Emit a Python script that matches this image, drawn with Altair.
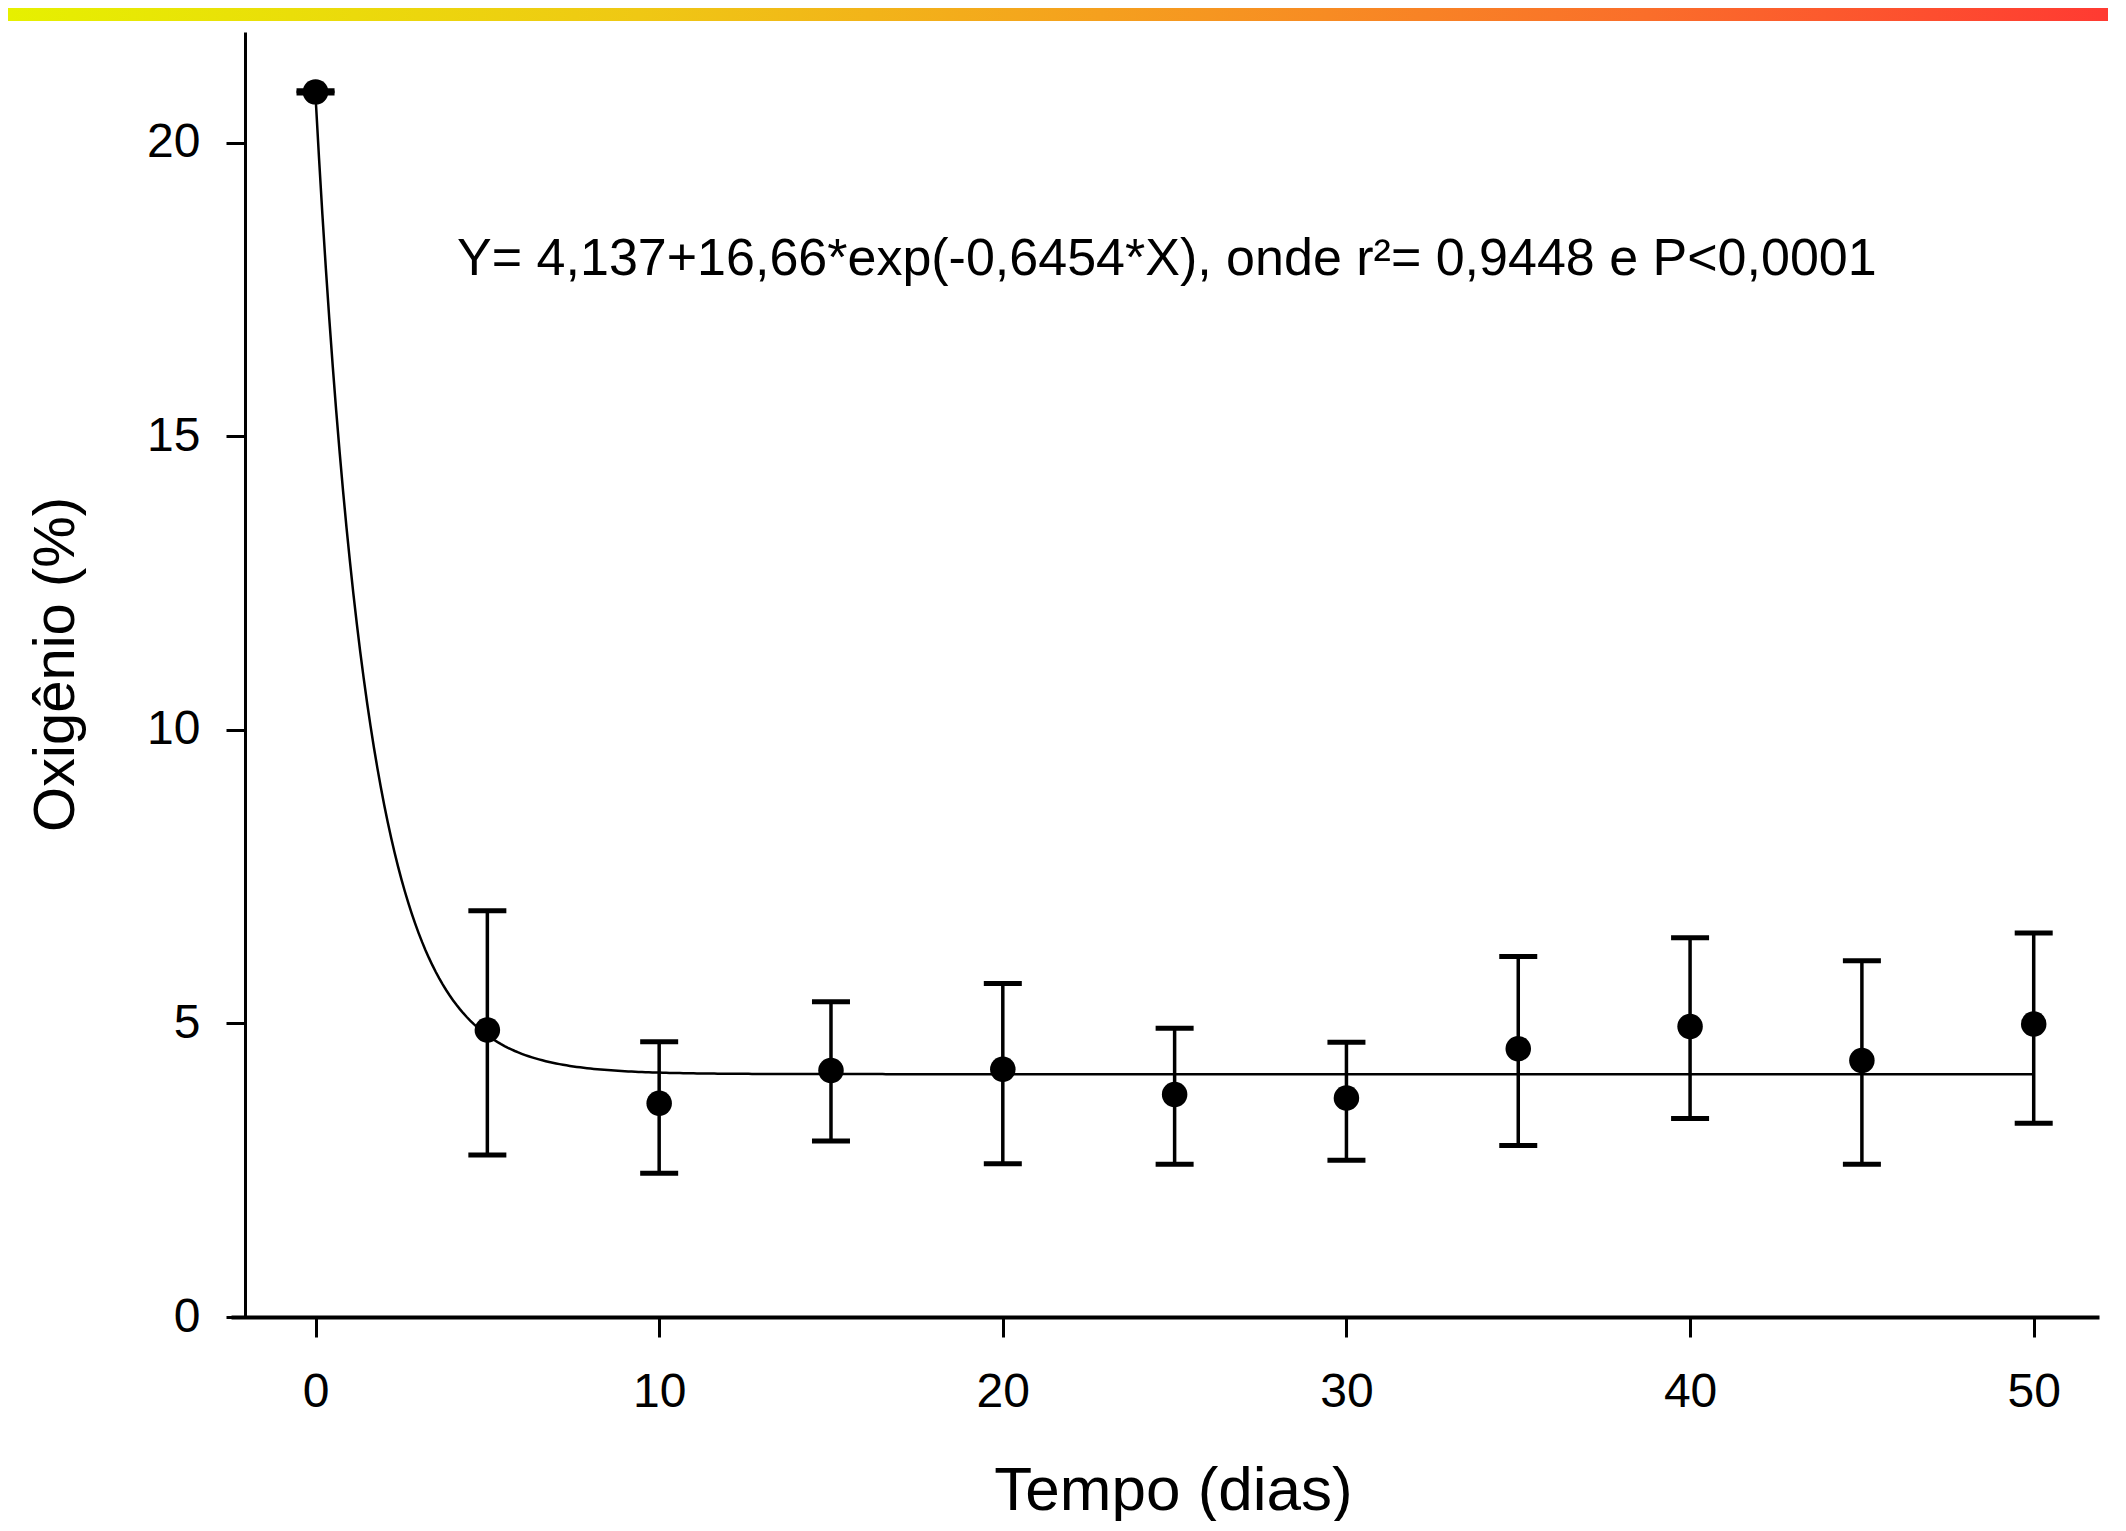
import altair as alt
import pandas as pd

# ---- data ----
days = [0, 5, 10, 15, 20, 25, 30, 35, 40, 45, 50]
oxygen = [20.87, 4.89, 3.64, 4.20, 4.22, 3.79, 3.73, 4.57, 4.95, 4.37, 4.99]
upper = [20.89, 6.92, 4.69, 5.37, 5.68, 4.92, 4.68, 6.14, 6.46, 6.07, 6.54]
lower = [20.85, 2.76, 2.45, 3.00, 2.61, 2.60, 2.67, 2.92, 3.38, 2.60, 3.30]

# fitted model printed on the chart: Y = a + b*exp(-k*X)
fit_a = 4.137
fit_b = 16.66
fit_k = 0.6454
annotation = "Y= 4,137+16,66*exp(-0,6454*X), onde r\u00b2= 0,9448 e P<0,0001"
annot_x = [4.12]
annot_y = [17.75]

x_ticks = [0, 10, 20, 30, 40, 50]
y_ticks = [0, 5, 10, 15, 20]

FONT = "Liberation Sans"

df = pd.DataFrame({"day": days, "oxy": oxygen, "hi": upper, "lo": lower})

W, H = 1868, 1285
xscale = alt.Scale(domain=[-2.46, 51.9], nice=False, zero=False)
yscale = alt.Scale(domain=[0, 21.89], nice=False, zero=False)

xaxis = alt.Axis(
    values=x_ticks, title="Tempo (dias)", grid=False, format="d",
    domainColor="black", domainWidth=4, tickColor="black", tickWidth=3, tickSize=20,
    labelFont=FONT, labelFontSize=48, labelColor="black", labelPadding=31,
    titleFont=FONT, titleFontSize=62, titleFontWeight="normal", titleColor="black",
    titleX=942, titleY=192, titleBaseline="alphabetic", titleAlign="center",
)
yaxis = alt.Axis(
    values=y_ticks, title="Oxig\u00eanio (%)", grid=False, offset=-14, format="d",
    domainColor="black", domainWidth=3, tickColor="black", tickWidth=3, tickSize=19,
    labelFont=FONT, labelFontSize=48, labelColor="black", labelPadding=26,
    titleFont=FONT, titleFontSize=58, titleFontWeight="normal", titleColor="black",
    titleX=-172, titleY=632, titleBaseline="alphabetic", titleAlign="center", titleAngle=270,
)

base = alt.Chart(df)

stems = base.mark_rule(color="black", strokeWidth=3.5).encode(
    x=alt.X("day:Q", scale=xscale, axis=xaxis),
    y=alt.Y("lo:Q", scale=yscale, axis=yaxis),
    y2="hi:Q",
)
caps_hi = base.mark_tick(color="black", opacity=1, orient="horizontal", size=38, thickness=5).encode(
    x=alt.X("day:Q", scale=xscale), y=alt.Y("hi:Q", scale=yscale)
)
caps_lo = base.mark_tick(color="black", opacity=1, orient="horizontal", size=38, thickness=5).encode(
    x=alt.X("day:Q", scale=xscale), y=alt.Y("lo:Q", scale=yscale)
)

fit = (
    alt.Chart(alt.sequence(start=0, stop=50.001, step=0.1, as_="t"))
    .transform_calculate(fy=f"{fit_a} + {fit_b}*exp(-{fit_k}*datum.t)")
    .mark_line(color="black", strokeWidth=2.5)
    .encode(x=alt.X("t:Q", scale=xscale), y=alt.Y("fy:Q", scale=yscale))
)

points = base.mark_circle(color="black", opacity=1, size=650).encode(
    x=alt.X("day:Q", scale=xscale), y=alt.Y("oxy:Q", scale=yscale)
)

text_df = pd.DataFrame({"x": annot_x, "y": annot_y, "label": [annotation]})
label = alt.Chart(text_df).mark_text(
    font=FONT, fontSize=52, color="black", align="left", baseline="alphabetic"
).encode(x=alt.X("x:Q", scale=xscale), y=alt.Y("y:Q", scale=yscale), text="label:N")

gradient = alt.LinearGradient(
    gradient="linear",
    stops=[
        alt.GradientStop(color="#e6f000", offset=0),
        alt.GradientStop(color="#efc814", offset=0.3),
        alt.GradientStop(color="#f5a01e", offset=0.52),
        alt.GradientStop(color="#fa6e2a", offset=0.78),
        alt.GradientStop(color="#ff3a32", offset=1),
    ],
    x1=0, x2=1, y1=0, y2=0,
)
band = alt.Chart(alt.Data(values=[{}])).mark_rect(fill=gradient).encode(
    x=alt.value(-223), x2=alt.value(1877), y=alt.value(-24), y2=alt.value(-11)
)

chart = (
    alt.layer(band, fit, stems, caps_hi, caps_lo, points, label)
    .properties(
        width=W, height=H,
        autosize=alt.AutoSizeParams(type="none"),
        padding={"left": 223, "top": 24, "right": 9, "bottom": 204},
        background="white",
    )
    .configure_view(stroke=None)
)

chart.save("out.html", embed_options={"renderer": "svg", "actions": False})
